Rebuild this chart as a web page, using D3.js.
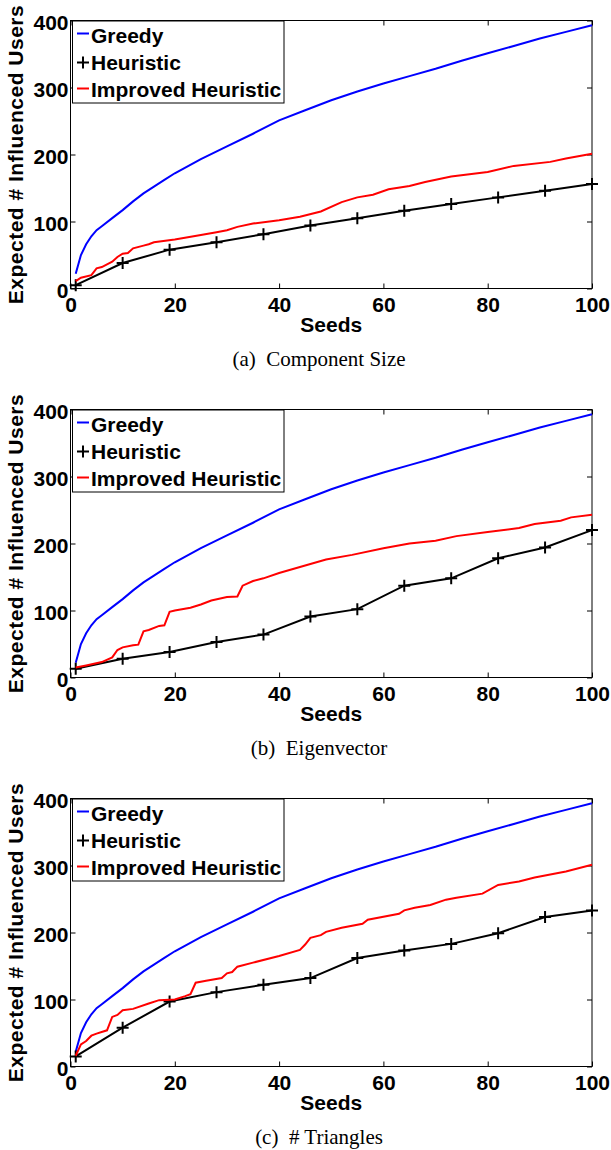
<!DOCTYPE html>
<html>
<head>
<meta charset="utf-8">
<script src="https://cdn.jsdelivr.net/npm/d3@7"></script>
<style>
  body { margin: 0; background: #fff; }
  svg { display: block; }
  .axis text { font-family: "Liberation Sans", Arial, sans-serif; font-weight: bold; font-size: 21px; fill: #000; }
  .axis line { stroke: #000; }
</style>
</head>
<body>
<div id="chart"></div>
<script>
// shared x values
const xTicks = [0, 20, 40, 60, 80, 100];
const yTicks = [0, 100, 200, 300, 400];

// greedy curve (same in all three panels)
const greedySeeds = [1, 2, 3, 4, 5, 6, 8, 10, 12, 14, 16, 18, 20, 25, 30, 35, 40, 45, 50, 55, 60, 65, 70, 75, 80, 85, 90, 95, 100];
const greedyVals = [22, 50, 66, 78, 87, 93, 105, 117, 130, 142, 152, 162, 172, 193, 212, 231, 251, 266, 281, 294, 306, 317, 328, 340, 351, 362, 373, 383, 393];

// heuristic, sampled at marker positions
const heurSeeds = [1, 10, 19, 28, 37, 46, 55, 64, 73, 82, 91, 100];
const heurA = [5, 38, 58, 69, 81, 94, 105, 116, 126, 136, 146, 156];
const heurB = [13, 28, 38, 53, 64, 91, 102, 137, 148, 178, 194, 220];
const heurC = [15, 58, 97, 111, 122, 132, 162, 173, 183, 199, 223, 233];

// improved heuristic
const impSeedsA = [1, 2, 4, 5, 6, 8, 9, 10, 11, 12, 14, 15, 16, 20, 25, 28, 30, 32, 35, 40, 44, 48, 52, 55, 58, 61, 65, 68, 73, 80, 85, 92, 95, 100];
const impA = [11, 16, 20, 30, 32, 40, 47, 52, 53, 60, 64, 66, 69, 73, 80, 84, 87, 92, 97, 102, 107, 115, 129, 136, 140, 148, 153, 159, 167, 174, 183, 189, 194, 201];

const impSeedsB = [1, 3, 6, 8, 9, 10, 12, 13, 14, 15, 17, 18, 19, 20, 23, 25, 27, 30, 32, 33, 35, 37, 40, 44, 49, 54, 60, 65, 70, 74, 80, 86, 89, 94, 96, 100];
const impB = [15, 18, 23, 30, 41, 45, 48, 49, 69, 71, 77, 78, 98, 100, 104, 109, 115, 120, 121, 137, 144, 148, 156, 165, 176, 183, 193, 200, 204, 211, 217, 223, 229, 234, 239, 243];

const impSeedsC = [1, 2, 3, 4, 5, 7, 8, 9, 10, 12, 15, 17, 20, 22, 23, 24, 26, 29, 30, 31, 32, 35, 40, 44, 45, 46, 48, 49, 52, 56, 57, 63, 64, 66, 69, 72, 74, 79, 82, 86, 89, 95, 100];
const impC = [16, 33, 38, 46, 49, 54, 74, 77, 84, 86, 94, 99, 100, 105, 108, 125, 128, 132, 139, 141, 149, 155, 165, 174, 182, 192, 196, 201, 207, 213, 219, 228, 233, 237, 241, 249, 252, 258, 271, 276, 282, 291, 301];

const legendNames = ['Greedy', 'Heuristic', 'Improved Heuristic'];
const captions = ['(a)  Component Size', '(b)  Eigenvector', '(c)  # Triangles'];

const width = 611, height = 1150;
const left = 70.5, right = 592;
const panelTops = [20.5, 409.5, 798.5];
const panelH = 268;
const sans = '"Liberation Sans", Arial, sans-serif';

const svg = d3.select('#chart')
    .append('svg')
    .attr('width', width)
    .attr('height', height);

const x = d3.scaleLinear().domain([0, 100]).range([left, right]);

function zip(xs, ys) {
    return xs.map((v, i) => [v, ys[i]]);
}

function drawPanel(top, heur, impSeeds, imp, caption) {
    const bottom = top + panelH;
    const y = d3.scaleLinear().domain([0, 400]).range([bottom, top]);
    const g = svg.append('g');

    const line = d3.line().x(d => x(d[0])).y(d => y(d[1]));

    // axes with inward ticks
    g.append('g').attr('class', 'axis')
        .attr('transform', `translate(0,${bottom})`)
        .call(d3.axisBottom(x).tickValues(xTicks).tickSizeInner(-5).tickSizeOuter(0).tickPadding(9))
        .call(a => a.select('.domain').remove());
    g.append('g').attr('class', 'axis')
        .attr('transform', `translate(0,${top})`)
        .call(d3.axisTop(x).tickValues(xTicks).tickSizeInner(-5).tickSizeOuter(0).tickFormat(''))
        .call(a => a.select('.domain').remove());
    g.append('g').attr('class', 'axis')
        .attr('transform', `translate(${left},0)`)
        .call(d3.axisLeft(y).tickValues(yTicks).tickSizeInner(-5).tickSizeOuter(0).tickPadding(2))
        .call(a => a.select('.domain').remove())
        .call(a => a.selectAll('text').attr('dy', '0.45em'));
    g.append('g').attr('class', 'axis')
        .attr('transform', `translate(${right},0)`)
        .call(d3.axisRight(y).tickValues(yTicks).tickSizeInner(-5).tickSizeOuter(0).tickFormat(''))
        .call(a => a.select('.domain').remove());

    g.append('rect')
        .attr('x', left).attr('y', top)
        .attr('width', right - left).attr('height', panelH)
        .attr('fill', 'none').attr('stroke', '#000').attr('stroke-width', 1);

    // series
    g.append('path').datum(zip(greedySeeds, greedyVals))
        .attr('d', line).attr('fill', 'none').attr('stroke', '#0000ff').attr('stroke-width', 2);

    const heurData = zip(heurSeeds, heur);
    g.append('path').datum(heurData)
        .attr('d', line).attr('fill', 'none').attr('stroke', '#000').attr('stroke-width', 2);
    g.append('g').selectAll('path')
        .data(heurData)
        .enter()
        .append('path')
        .attr('d', 'M-6,0H6M0,-6V6')
        .attr('transform', d => `translate(${x(d[0])},${y(d[1])})`)
        .attr('stroke', '#000').attr('stroke-width', 2);

    g.append('path').datum(zip(impSeeds, imp))
        .attr('d', line).attr('fill', 'none').attr('stroke', '#ff0000').attr('stroke-width', 2);

    // legend
    const lg = g.append('g');
    lg.append('rect')
        .attr('x', 72.5).attr('y', top + 0.5)
        .attr('width', 211.5).attr('height', 82)
        .attr('fill', '#fff').attr('stroke', '#000').attr('stroke-width', 1);
    lg.append('line')
        .attr('x1', 77).attr('x2', 89).attr('y1', top + 13).attr('y2', top + 13)
        .attr('stroke', '#0000ff').attr('stroke-width', 2);
    lg.append('path')
        .attr('d', 'M-6,0H6M0,-6V6')
        .attr('transform', `translate(83,${top + 42})`)
        .attr('stroke', '#000').attr('stroke-width', 2);
    lg.append('line')
        .attr('x1', 77).attr('x2', 89).attr('y1', top + 68).attr('y2', top + 68)
        .attr('stroke', '#ff0000').attr('stroke-width', 2);
    lg.selectAll('text')
        .data(legendNames)
        .enter()
        .append('text')
        .attr('x', 91)
        .attr('y', (d, i) => top + 22.5 + i * 26.8)
        .attr('font-family', sans).attr('font-weight', 'bold').attr('font-size', 21)
        .text(d => d);

    // labels
    g.append('text')
        .attr('transform', `translate(23,${top + panelH / 2}) rotate(-90)`)
        .attr('text-anchor', 'middle')
        .attr('font-family', sans).attr('font-weight', 'bold').attr('font-size', 21)
        .attr('letter-spacing', 0.5)
        .text('Expected # Influenced Users');
    g.append('text')
        .attr('x', (left + right) / 2).attr('y', bottom + 43)
        .attr('text-anchor', 'middle')
        .attr('font-family', sans).attr('font-weight', 'bold').attr('font-size', 21)
        .text('Seeds');
    g.append('text')
        .attr('x', 319).attr('y', bottom + 77.5)
        .attr('text-anchor', 'middle')
        .attr('font-family', '"Liberation Serif", "Times New Roman", serif').attr('font-size', 21)
        .style('white-space', 'pre')
        .text(caption);
}

drawPanel(panelTops[0], heurA, impSeedsA, impA, captions[0]);
drawPanel(panelTops[1], heurB, impSeedsB, impB, captions[1]);
drawPanel(panelTops[2], heurC, impSeedsC, impC, captions[2]);
</script>
</body>
</html>
